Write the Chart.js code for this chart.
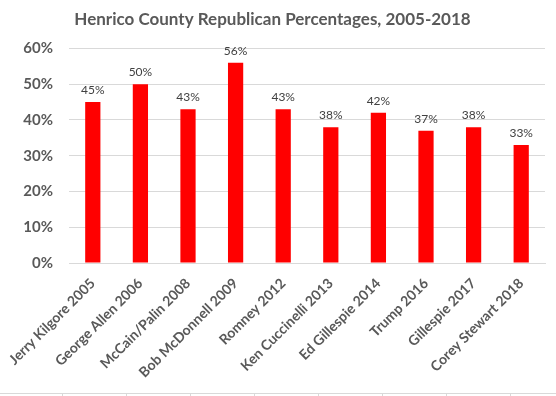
<!DOCTYPE html>
<html><head><meta charset="utf-8">
<script src="https://cdn.jsdelivr.net/npm/chart.js@4"></script>
<style>html,body{margin:0;padding:0;background:#fff}#wrap{width:556px;height:396px}</style>
</head><body><div id="wrap"><canvas id="c" width="556" height="396"></canvas></div>
<script>
const categories = ["Jerry Kilgore 2005","George Allen 2006","McCain/Palin 2008","Bob McDonnell 2009","Romney 2012","Ken Cuccinelli 2013","Ed Gillespie 2014","Trump 2016","Gillespie 2017","Corey Stewart 2018"];
const percentages = [45, 50, 43, 56, 43, 38, 42, 37, 38, 33];
const yTicks = [0, 10, 20, 30, 40, 50, 60];

const FONT = "Lato, 'Open Sans', sans-serif";
const labelPlugin = {
  id: 'valueLabels',
  afterDatasetsDraw(chart) {
    const ctx = chart.ctx;
    const meta = chart.getDatasetMeta(0);
    ctx.save();
    ctx.font = "12px " + FONT;
    ctx.fillStyle = '#404040';
    ctx.textAlign = 'center';
    ctx.textBaseline = 'bottom';
    meta.data.forEach((bar, i) => {
      ctx.fillText(percentages[i] + '%', bar.x, bar.y - 6);
    });
    ctx.restore();
  }
};
const sheetEdge = {
  id: 'sheetEdge',
  afterDraw(chart) {
    const ctx = chart.ctx;
    ctx.save();
    ctx.strokeStyle = '#d9d9d9';
    ctx.lineWidth = 1;
    ctx.beginPath();
    ctx.moveTo(0, 393.5); ctx.lineTo(556, 393.5);
    for (let x = 62; x < 556; x += 64) { ctx.moveTo(x + 0.5, 393); ctx.lineTo(x + 0.5, 396); }
    ctx.stroke();
    ctx.restore();
  }
};

new Chart(document.getElementById('c'), {
  type: 'bar',
  data: { labels: categories, datasets: [{ data: percentages, backgroundColor: '#ff0000', barPercentage: 0.32, categoryPercentage: 1 }] },
  options: {
    responsive: false, animation: false, devicePixelRatio: 1,
    layout: { padding: { left: 0, right: 11, top: 0, bottom: 3 } },
    plugins: {
      legend: { display: false }, tooltip: { enabled: false },
      title: { display: true, text: 'Henrico County Republican Percentages, 2005-2018', color: '#595959',
        font: { family: FONT, size: 17, weight: 'bold' }, padding: { top: 9, bottom: 19 } }
    },
    scales: {
      x: {
        afterFit(scale) { scale.paddingLeft = 0; },
        grid: { display: false, drawTicks: false },
        border: { color: '#d9d9d9' },
        ticks: { color: '#595959', font: { family: FONT, size: 14, weight: 'bold' }, maxRotation: 45, minRotation: 45, padding: 12, autoSkip: false }
      },
      y: {
        min: 0, max: 60,
        afterFit(scale) { scale.width = 69; },
        afterBuildTicks(axis) { axis.ticks = yTicks.map(v => ({ value: v })); },
        grid: { color: '#d9d9d9', drawTicks: false },
        border: { display: false },
        ticks: { color: '#595959', font: { family: FONT, size: 15, weight: 'bold' }, padding: 16, callback: v => v + '%' }
      }
    }
  },
  plugins: [labelPlugin, sheetEdge]
});
</script></body></html>
